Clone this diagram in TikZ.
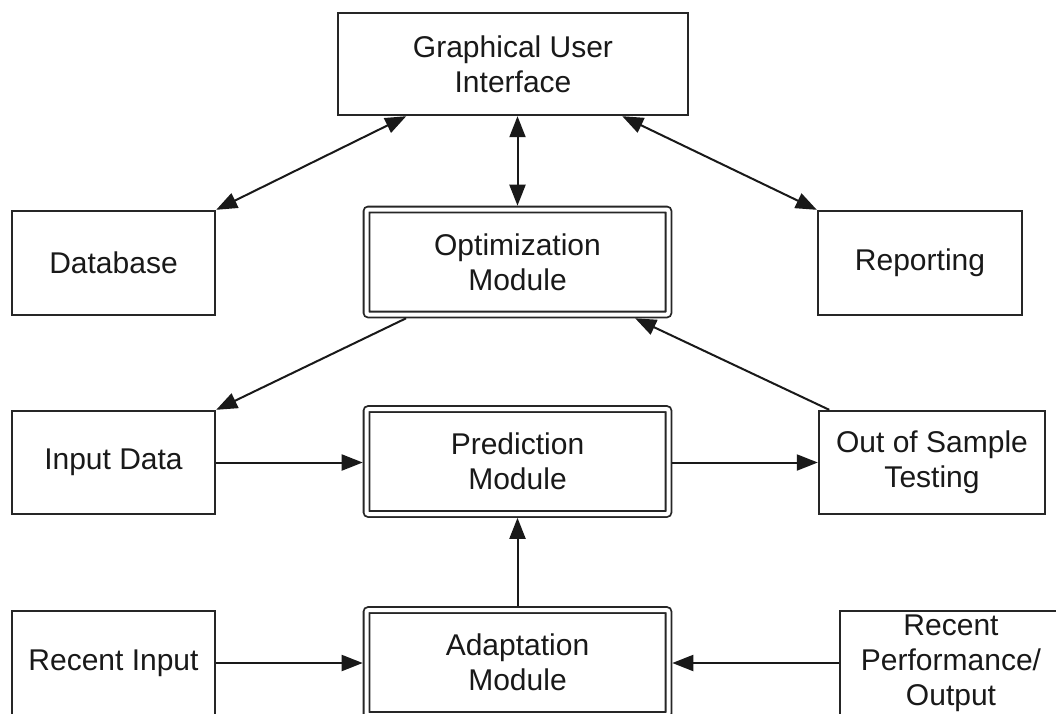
\documentclass[tikz,border=0pt]{standalone}
\usepackage{fontspec}
\setmainfont{Liberation Sans}
\usetikzlibrary{arrows.meta,calc}

\begin{document}
\begin{tikzpicture}[x=1pt,y=-1pt,
  every node/.style={font=\fontsize{30}{35}\selectfont, text=black!90, align=center},
  plainbox/.style={draw=black!85, line width=2.4pt, inner sep=0pt, outer sep=1.2pt},
  modbox/.style={draw=black!85, line width=1.8pt, double=white, double distance=4pt,
    rounded corners=2pt, inner sep=0pt, outer sep=3.8pt,
    minimum width=302pt, minimum height=105pt},
  tip/.tip={Triangle[length=21pt,width=16pt]},
  link/.style={draw=black!90, line width=2pt, -tip},
  duplex/.style={link, tip-tip}
]
\useasboundingbox (0,0) rectangle (1056,713);
\clip (0,0) rectangle (1056,713);
\fill[white] (0,0) rectangle (1056,713);

% top row
\node[plainbox, minimum width=350pt, minimum height=102pt] (gui) at (513,64) {Graphical User\\Interface};

% second row
\node[plainbox, minimum width=203pt, minimum height=104pt] (db) at (113.5,263) {Database};
\node[modbox] (opt) at (517.5,262) {Optimization\\Module};
\node[plainbox, minimum width=204pt, minimum height=104pt] (rep) at (920,263) {Reporting};

% third row
\node[plainbox, minimum width=203pt, minimum height=103pt] (inp) at (113.5,462.5) {Input Data};
\node[modbox] (pred) at (517.5,461.5) {Prediction\\Module};
\node[plainbox, minimum width=226pt, minimum height=103pt] (oos) at (932,462.5) {Out of Sample\\Testing};

% bottom row (runs past the lower edge)
\node[plainbox, minimum width=203pt, minimum height=104pt] (rin) at (113.5,663) {Recent Input};
\node[modbox] (adapt) at (517.5,662.5) {Adaptation\\Module};
\node[plainbox, minimum width=222pt, minimum height=104pt] (rperf) at (951,663) {Recent\\Performance/\\Output};

% connectors
\draw[duplex] ($(gui.south west)!0.197!(gui.south east)$) -- (db.north east);
\draw[duplex] (gui.south -| opt.north) -- (opt.north);
\draw[duplex] ($(gui.south west)!0.81!(gui.south east)$) -- (rep.north west);

\draw[link] ($(opt.south west)!0.14!(opt.south east)$) -- (inp.north east);
\draw[link] ($(oos.north west)!0.05!(oos.north east)$) -- ($(opt.south west)!0.88!(opt.south east)$);

\draw[link] (inp.east) -- (inp.east -| pred.west);
\draw[link] (pred.east |- oos.west) -- (oos.west);

\draw[link] (adapt.north) -- (pred.south);
\draw[link] (rin.east) -- (rin.east -| adapt.west);
\draw[link] (rperf.west) -- (rperf.west -| adapt.east);
\end{tikzpicture}
\end{document}
